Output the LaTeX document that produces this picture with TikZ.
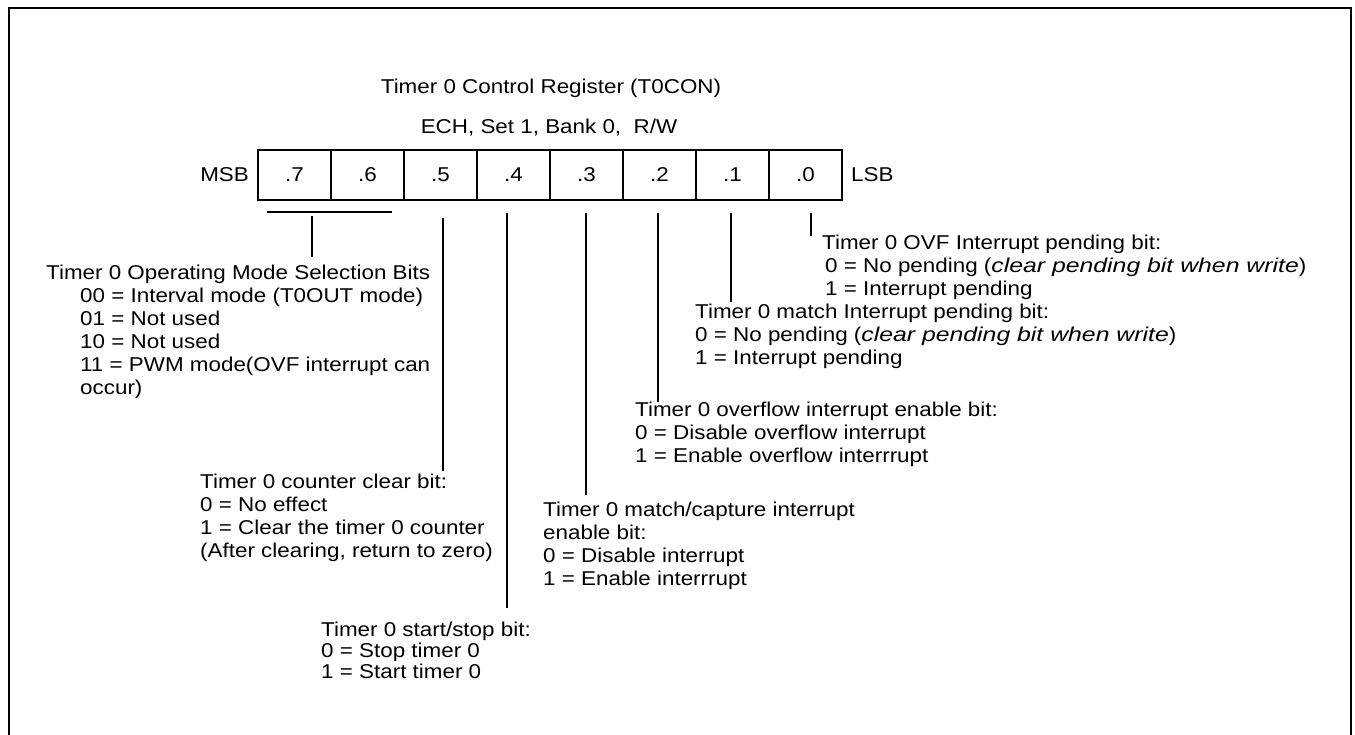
\documentclass[tikz,border=0pt]{standalone}
\usepackage{fontspec}
\setmainfont{Liberation Sans}[FakeStretch=1.12]
\newfontface\wideit{Liberation Sans Italic}[FakeStretch=1.24]
\usetikzlibrary{positioning}
\tikzset{
  bitcell/.style={rectangle, draw, line width=1.4pt, minimum width=73pt, minimum height=50pt, inner sep=0pt, outer sep=0pt},
  endtag/.style={inner sep=0pt},
  desc/.style={anchor=north west, align=left, inner sep=0pt},
  lead/.style={line width=1.2pt},
  frameline/.style={line width=2.6pt},
}

\begin{document}
\begin{tikzpicture}[x=1pt, y=-1pt, font=\fontsize{20}{23}\selectfont]
  \useasboundingbox (0,0) rectangle (1355,734);
  \draw[frameline] (9,740) -- (9,8) -- (1351,8) -- (1351,740);

  % register T0CON
  \node (title) at (551,88) {Timer 0 Control Register (T0CON)};
  \node (addr) at (549,128) {ECH, Set 1, Bank 0,\ \ R/W};

  \node[bitcell] (b7) at (294.5,175) {.7};
  \foreach \i in {6,...,0} {
    \pgfmathtruncatemacro{\prev}{\i+1}
    \node[bitcell, right=0pt of b\prev] (b\i) {.\i};
  }
  \node[endtag, left=9pt of b7] (msb) {MSB};
  \node[endtag, right=9pt of b0] (lsb) {LSB};

  % bit descriptions
  \node[desc] (mode) at (46,265) {Timer 0 Operating Mode Selection Bits\\
    \hspace*{34pt}00 = Interval mode (T0OUT mode)\\
    \hspace*{34pt}01 = Not used\\
    \hspace*{34pt}10 = Not used\\
    \hspace*{34pt}11 = PWM mode(OVF interrupt can\\
    \hspace*{34pt}occur)};
  \node[desc] (clear) at (200,474) {Timer 0 counter clear bit:\\
    0 = No effect\\
    1 = Clear the timer 0 counter\\
    (After clearing, return to zero)};
  \node[desc, font=\fontsize{20}{21}\selectfont] (startstop) at (321,622) {Timer 0 start/stop bit:\\
    0 = Stop timer 0\\
    1 = Start timer 0};
  \node[desc] (capture) at (543,502) {Timer 0 match/capture interrupt\\
    enable bit:\\
    0 = Disable interrupt\\
    1 = Enable interrrupt};
  \node[desc] (ovfen) at (635,402) {Timer 0 overflow interrupt enable bit:\\
    0 = Disable overflow interrupt\\
    1 = Enable overflow interrrupt};
  \node[desc] (matchpend) at (695,304) {Timer 0 match Interrupt pending bit:\\
    0 = No pending ({\wideit clear pending bit when write})\\
    1 = Interrupt pending};
  \node[desc] (ovfpend) at (822,235) {Timer 0 OVF Interrupt pending bit:\\
    \hspace*{3pt}0 = No pending ({\wideit clear pending bit when write})\\
    \hspace*{3pt}1 = Interrupt pending};

  % leads
  \coordinate (brl) at (267,212);
  \coordinate (brr) at (392,212);
  \coordinate (brm) at (312,216);
  \coordinate (brend) at (312,257);
  \draw[lead] (brl) -- (brr);
  \draw[lead] (brm) -- (brend);
  \foreach \b/\x/\t/\e in {5/443/218/471, 4/507/213/608, 3/586/213/495, 2/658/213/402, 1/731/213/302, 0/811/213/236} {
    \coordinate (top\b) at (\x,\t);
    \coordinate (end\b) at (\x,\e);
    \draw[lead] (top\b) -- (end\b);
  }
\end{tikzpicture}
\end{document}
